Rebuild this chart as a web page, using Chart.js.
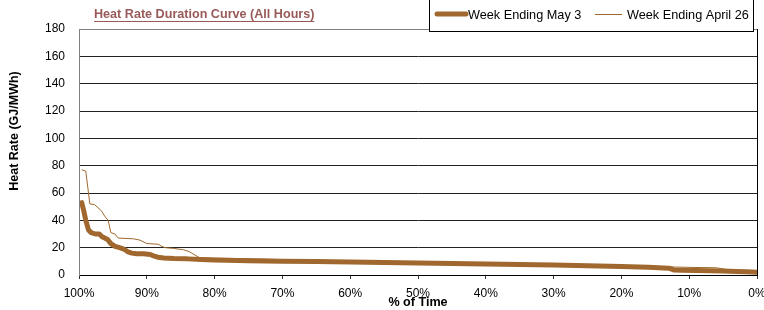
<!DOCTYPE html>
<html>
<head>
<meta charset="utf-8">
<script src="https://cdn.jsdelivr.net/npm/chart.js@4/dist/chart.umd.min.js"></script>
<style>
  html, body { margin: 0; padding: 0; background: #fff; }
  #myChart { display: block; }
</style>
</head>
<body>
<canvas id="myChart" width="764" height="310"></canvas>
<script>
// series: % of time (x) and heat rate GJ/MWh (y)
const may3Pct = [99.6, 99.3, 99.0, 98.6, 98.2, 97.6, 97.0, 96.6, 96.2, 95.8, 95.3, 94.7, 94.0, 93.4, 92.8, 92.2, 91.5, 90.5, 89.5, 89.0, 88.4, 87.5, 86.0, 84.0, 82.0, 80.0, 75.0, 70.0, 65.0, 60.0, 55.0, 50.0, 45.0, 40.0, 35.0, 30.0, 25.0, 20.0, 16.0, 13.0, 12.2, 11.0, 9.0, 7.0, 5.0, 3.0, 1.5, 0.0];
const may3Val = [53, 47, 40, 33, 31, 30, 30, 28, 27, 26, 23, 21, 20, 19, 17, 16, 15.5, 15.5, 15, 14, 13, 12.5, 12, 11.8, 11.3, 11, 10.5, 10, 9.8, 9.5, 9.2, 8.7, 8.4, 8, 7.6, 7.3, 6.8, 6.2, 5.6, 5.0, 3.6, 3.4, 3.3, 3.2, 3.0, 2.6, 2.3, 2.0];

const apr26Pct = [99.6, 99.0, 98.6, 98.4, 97.7, 96.7, 96.2, 95.7, 95.3, 94.7, 94.2, 92.0, 91.0, 90.0, 88.3, 87.8, 87.3, 86.1, 84.6, 83.7, 82.7, 82.2, 80.0, 76.0, 72.0, 68.0, 62.0, 56.0, 50.0, 44.0, 38.0, 32.0, 26.0, 20.0, 15.0, 12.0, 9.0, 6.0, 4.5, 3.0, 1.5, 0.0];
const apr26Val = [77, 76, 60, 52, 51.5, 47, 43, 40, 31, 30, 27, 26.5, 25.5, 23, 22.5, 21, 20, 19.5, 18.5, 17, 14, 12.5, 12.3, 12, 11.5, 11, 10.5, 10, 9.5, 9, 8.5, 8, 7.5, 6.8, 6.3, 5.8, 5.5, 5.3, 4.0, 3.0, 2.5, 2.2];

const seriesNames = ['Week Ending May 3', 'Week Ending April 26'];
const yTicks = [0, 20, 40, 60, 80, 100, 120, 140, 160, 180];
const xTicks = [100, 90, 80, 70, 60, 50, 40, 30, 20, 10, 0];

const lineColor = '#a0682e';
const font = 'Liberation Sans, Arial, sans-serif';

const toPoints = (xs, ys) => xs.map((x, i) => ({ x: x, y: ys[i] }));

// title, frame, y title and legend box drawn over the plot like the original
const extras = {
  id: 'extras',
  afterDraw(chart) {
    const ctx = chart.ctx;
    const a = chart.chartArea;
    ctx.save();
    // plot frame
    ctx.lineWidth = 1;
    ctx.strokeStyle = '#808080';
    ctx.beginPath();
    ctx.moveTo(a.left + 0.5, a.bottom);
    ctx.lineTo(a.left + 0.5, a.top + 0.5);
    ctx.lineTo(a.right, a.top + 0.5);
    ctx.stroke();
    ctx.strokeStyle = '#000';
    ctx.beginPath();
    ctx.moveTo(a.right + 0.5, a.top);
    ctx.lineTo(a.right + 0.5, a.bottom + 1);
    ctx.stroke();

    // title
    ctx.font = 'bold 12.6px ' + font;
    ctx.fillStyle = '#995a5a';
    ctx.textBaseline = 'middle';
    ctx.textAlign = 'left';
    const t = 'Heat Rate Duration Curve (All Hours)';
    ctx.fillText(t, 94, 15);
    const tw = ctx.measureText(t).width;
    ctx.fillRect(94, 21, tw, 1);

    // y axis title (sits above the plot centre in the original)
    ctx.save();
    ctx.translate(15, 131);
    ctx.rotate(-Math.PI / 2);
    ctx.textAlign = 'center';
    ctx.fillStyle = '#000';
    ctx.font = 'bold 12.5px ' + font;
    ctx.fillText('Heat Rate (GJ/MWh)', 0, 0);
    ctx.restore();

    // legend
    ctx.fillStyle = '#fff';
    ctx.fillRect(429, 0, 325, 31);
    ctx.strokeStyle = '#000';
    ctx.strokeRect(429.5, -0.5, 324, 32);
    ctx.strokeStyle = lineColor;
    ctx.lineCap = 'round';
    ctx.lineWidth = 5;
    ctx.beginPath();
    ctx.moveTo(437, 14);
    ctx.lineTo(466, 14);
    ctx.stroke();
    ctx.lineCap = 'butt';
    ctx.lineWidth = 1;
    ctx.beginPath();
    ctx.moveTo(595, 14.5);
    ctx.lineTo(622, 14.5);
    ctx.stroke();
    ctx.font = '12.7px ' + font;
    ctx.fillStyle = '#000';
    ctx.fillText(seriesNames[0], 468, 15);
    ctx.fillText(seriesNames[1], 627, 15);
    ctx.restore();
  }
};

const config = {
  type: 'line',
  data: {
    datasets: [
      {
        label: seriesNames[1],
        data: toPoints(apr26Pct, apr26Val),
        borderColor: lineColor,
        borderWidth: 1,
        pointRadius: 0,
        tension: 0
      },
      {
        label: seriesNames[0],
        data: toPoints(may3Pct, may3Val),
        borderColor: lineColor,
        borderWidth: 5,
        pointRadius: 0,
        tension: 0,
        borderCapStyle: 'round',
        borderJoinStyle: 'round'
      }
    ]
  },
  options: {
    responsive: false,
    animation: false,
    layout: { padding: { top: 29, right: 0, left: 0, bottom: 0 } },
    plugins: {
      legend: { display: false },
      tooltip: { enabled: false }
    },
    scales: {
      x: {
        type: 'linear',
        reverse: true,
        min: 0,
        max: 100,
        afterBuildTicks: (s) => { s.ticks = xTicks.map(v => ({ value: v })); },
        afterFit: (s) => { s.height = 35; s.paddingLeft = 0; s.paddingRight = 7; },
        ticks: {
          callback: (v) => v + '%',
          color: '#000',
          font: { family: font, size: 12 },
          padding: 7,
          maxRotation: 0,
          autoSkip: false
        },
        grid: { drawOnChartArea: false, drawTicks: true, tickLength: 4, tickColor: '#333' },
        border: { color: '#000' },
        title: {
          display: true,
          text: '% of Time',
          color: '#000',
          font: { family: font, size: 12.6, weight: 'bold' },
          padding: { top: 0, bottom: 0 }
        }
      },
      y: {
        min: 0,
        max: 180,
        afterBuildTicks: (s) => { s.ticks = yTicks.map(v => ({ value: v })); },
        afterFit: (s) => { s.width = 79; },
        ticks: {
          color: '#000',
          font: { family: font, size: 12 },
          padding: 14
        },
        grid: { color: '#222', drawTicks: false },
        border: { color: '#808080' }
      }
    }
  },
  plugins: [extras]
};

const chart = new Chart(document.getElementById('myChart'), config);
</script>
</body>
</html>
